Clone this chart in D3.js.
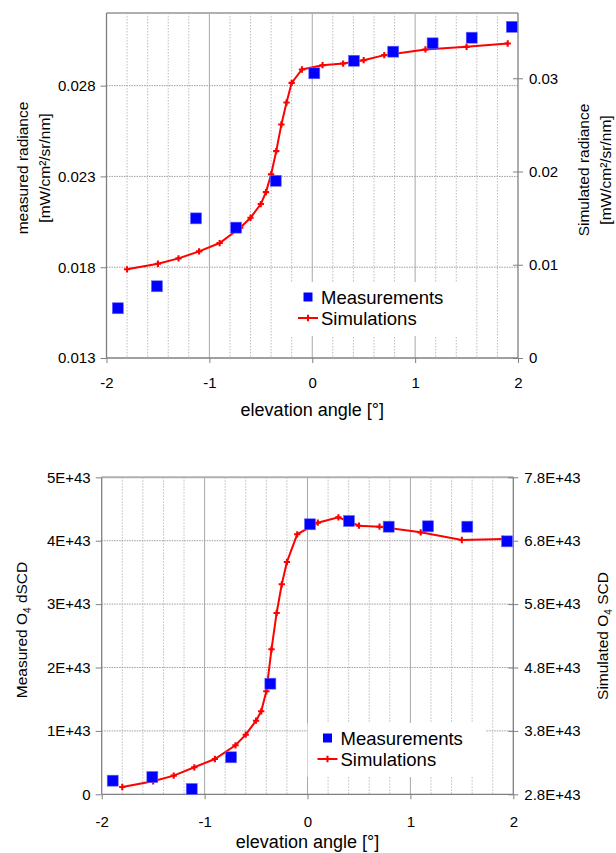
<!DOCTYPE html>
<html><head><meta charset="utf-8">
<script src="https://cdn.jsdelivr.net/npm/d3@7"></script>
<style>
body{margin:0;background:#fff;}
svg{display:block;font-family:"Liberation Sans",Arial,sans-serif;}
</style></head>
<body><svg id="c" width="616" height="853"></svg>
<script>
// ---------- DATA ----------
const xTicks = [-2, -1, 0, 1, 2];
const xTickLabels = ["-2", "-1", "0", "1", "2"];
const xMinorGrid = [-1.8, -1.6, -1.4, -1.2, -0.8, -0.6, -0.4, -0.2, 0.2, 0.4, 0.6, 0.8, 1.2, 1.4, 1.6, 1.8];

// Top panel: radiance
const topMeasX = [-1.89, -1.51, -1.13, -0.74, -0.355, 0.02, 0.405, 0.787, 1.17, 1.55, 1.94];
const topMeasY = [0.01574, 0.01695, 0.02069, 0.02018, 0.02276, 0.02868, 0.02937, 0.02987, 0.03033, 0.03064, 0.03124];
const topSimX = [-1.8, -1.5, -1.3, -1.1, -0.9, -0.7, -0.6, -0.5, -0.45, -0.4, -0.35, -0.3, -0.25, -0.2, -0.1, 0.1, 0.3, 0.5, 0.7, 1.1, 1.5, 1.9];
const topSimY = [0.00951, 0.01011, 0.01068, 0.01143, 0.01233, 0.01397, 0.01504, 0.01651, 0.01779, 0.01969, 0.02219, 0.02505, 0.0274, 0.02951, 0.03094, 0.0314, 0.03158, 0.03194, 0.03248, 0.03309, 0.03337, 0.03373];
const topLeftTicks = [0.013, 0.018, 0.023, 0.028];
const topLeftLabels = ["0.013", "0.018", "0.023", "0.028"];
const topRightTicks = [0, 0.01, 0.02, 0.03];
const topRightLabels = ["0", "0.01", "0.02", "0.03"];

// Bottom panel: O4 (units of 1E+43)
const botMeasX = [-1.893, -1.508, -1.125, -0.743, -0.361, 0.024, 0.403, 0.789, 1.171, 1.553, 1.939];
const botMeasY = [0.215, 0.273, 0.084, 0.584, 1.745, 4.259, 4.311, 4.221, 4.227, 4.221, 3.99];
const botSimX = [-1.8, -1.5, -1.3, -1.1, -0.9, -0.7, -0.6, -0.5, -0.45, -0.4, -0.35, -0.3, -0.25, -0.2, -0.1, 0.1, 0.3, 0.5, 0.7, 1.1, 1.5, 1.9];
const botSimY = [2.915, 3.005, 3.094, 3.226, 3.357, 3.573, 3.74, 3.961, 4.109, 4.425, 5.087, 5.66, 6.112, 6.464, 6.901, 7.084, 7.169, 7.037, 7.021, 6.932, 6.811, 6.827];
const botLeftTicks = [0, 1, 2, 3, 4, 5];
const botLeftLabels = ["0", "1E+43", "2E+43", "3E+43", "4E+43", "5E+43"];
const botRightTicks = [2.8, 3.8, 4.8, 5.8, 6.8, 7.8];
const botRightLabels = ["2.8E+43", "3.8E+43", "4.8E+43", "5.8E+43", "6.8E+43", "7.8E+43"];

const legendNames = ["Measurements", "Simulations"];

// ---------- DRAW ----------
const svg = d3.select("#c");
const FS = 15;

function panel(cfg) {
  const g = svg.append("g");
  const x = d3.scaleLinear().domain([-2, 2]).range([cfg.l, cfg.r]);
  const yL = d3.scaleLinear().domain(cfg.leftDom).range([cfg.b, cfg.t]);
  const yR = d3.scaleLinear().domain(cfg.rightDom).range([cfg.b, cfg.t]);

  // minor vertical gridlines
  g.append("g").selectAll("line").data(xMinorGrid).join("line")
    .attr("x1", d => x(d)).attr("x2", d => x(d)).attr("y1", cfg.t).attr("y2", cfg.b)
    .attr("stroke", "#bdbdbd").attr("stroke-width", 1).attr("stroke-dasharray", "1.5,1.5");
  // major vertical gridlines
  g.append("g").selectAll("line").data(xTicks.slice(1, -1)).join("line")
    .attr("x1", d => x(d)).attr("x2", d => x(d)).attr("y1", cfg.t).attr("y2", cfg.b)
    .attr("stroke", "#a8a8a8").attr("stroke-width", 1);
  // horizontal gridlines
  g.append("g").selectAll("line").data(cfg.leftTicks.filter(v => v > cfg.leftDom[0] && v < cfg.leftDom[1])).join("line")
    .attr("x1", cfg.l).attr("x2", cfg.r).attr("y1", d => yL(d)).attr("y2", d => yL(d))
    .attr("stroke", "#a0a0a0").attr("stroke-width", 1).attr("stroke-dasharray", "1.5,1");

  // legend box (white, covers gridlines)
  g.append("rect").attr("x", cfg.legX - 20).attr("y", cfg.legY - 15)
    .attr("width", 178).attr("height", 54).attr("fill", "#fff");

  // frame
  g.append("line").attr("x1", cfg.l).attr("x2", cfg.r).attr("y1", cfg.t).attr("y2", cfg.t)
    .attr("stroke", "#b0b0b0").attr("stroke-width", 2);

  // axes
  const ax = g.append("g").attr("transform", `translate(0,${cfg.b})`)
    .call(d3.axisBottom(x).tickValues(xTicks).tickFormat((d, i) => xTickLabels[i]).tickSize(5).tickPadding(cfg.xPad));
  const al = g.append("g").attr("transform", `translate(${cfg.l},0)`)
    .call(d3.axisLeft(yL).tickValues(cfg.leftTicks).tickFormat((d, i) => cfg.leftLabels[i]).tickSize(6).tickPadding(cfg.lPad));
  const ar = g.append("g").attr("transform", `translate(${cfg.r},0)`)
    .call(d3.axisRight(yR).tickValues(cfg.rightTicks).tickFormat((d, i) => cfg.rightLabels[i]).tickSize(5).tickPadding(cfg.rPad));
  [ax, al, ar].forEach(a => {
    a.select(".domain").attr("stroke", "#808080").attr("stroke-width", 1.3);
    a.selectAll(".tick line").attr("stroke", "#808080");
    a.selectAll("text").attr("font-size", FS).attr("fill", "#000").attr("font-family", "Liberation Sans, Arial, sans-serif");
  });
  ar.selectAll(".tick line").attr("x1", -5);
  ax.selectAll(".tick line").attr("y1", 0);
  ax.select(".domain").attr("d", `M${cfg.l},0H${cfg.r}`);
  al.select(".domain").attr("d", `M0,${cfg.t}V${cfg.b}`);
  ar.select(".domain").attr("d", `M0,${cfg.t}V${cfg.b}`);

  // simulation line
  const sim = cfg.simX.map((v, i) => [v, cfg.simY[i]]);
  g.append("path").datum(sim)
    .attr("d", d3.line().x(d => x(d[0])).y(d => yR(d[1])))
    .attr("fill", "none").attr("stroke", "#ff0000").attr("stroke-width", 2);
  g.append("g").selectAll("path").data(sim).join("path")
    .attr("transform", d => `translate(${x(d[0])},${yR(d[1])})`)
    .attr("d", d3.symbol(d3.symbolCross, 22)).attr("fill", "#ff0000");

  // measurements
  const meas = cfg.measX.map((v, i) => [v, cfg.measY[i]]);
  g.append("g").selectAll("rect").data(meas).join("rect")
    .attr("x", d => x(d[0]) - 5.5).attr("y", d => yL(d[1]) - 5.5)
    .attr("width", 11).attr("height", 11).attr("fill", "#0000ff")
    .attr("stroke", "#6b6bff").attr("stroke-width", 0.6);

  // legend
  g.append("rect").attr("x", cfg.legX - 4.5).attr("y", cfg.legY - 4.5).attr("width", 9).attr("height", 9).attr("fill", "#0000ff");
  g.append("text").attr("x", cfg.legX + 13).attr("y", cfg.legY + 6.5).attr("font-size", 18.5).text(legendNames[0]);
  g.append("line").attr("x1", cfg.legX - 10).attr("x2", cfg.legX + 10).attr("y1", cfg.legY + 21).attr("y2", cfg.legY + 21)
    .attr("stroke", "#ff0000").attr("stroke-width", 2);
  g.append("path").attr("transform", `translate(${cfg.legX},${cfg.legY + 21})`)
    .attr("d", d3.symbol(d3.symbolCross, 22)).attr("fill", "#ff0000");
  g.append("text").attr("x", cfg.legX + 13).attr("y", cfg.legY + 27.5).attr("font-size", 18.5).text(legendNames[1]);

  // x title
  g.append("text").attr("x", (cfg.l + cfg.r) / 2).attr("y", cfg.xTitleY).attr("text-anchor", "middle")
    .attr("font-size", 18).text("elevation angle [°]");

  return g;
}

const g1 = panel({
  l: 106.5, r: 518, t: 13, b: 358,
  leftDom: [0.013, 0.032], rightDom: [0, 0.037],
  leftTicks: topLeftTicks, leftLabels: topLeftLabels,
  rightTicks: topRightTicks, rightLabels: topRightLabels,
  measX: topMeasX, measY: topMeasY, simX: topSimX, simY: topSimY,
  legX: 308, legY: 297, xTitleY: 416, xPad: 14, lPad: 5, rPad: 6
});
// top titles
g1.append("text").attr("transform", "translate(28,168) rotate(-90)").attr("text-anchor", "middle").attr("font-size", 15.5).text("measured radiance");
g1.append("text").attr("transform", "translate(50,168) rotate(-90)").attr("text-anchor", "middle").attr("font-size", 15.5).text("[mW/cm²/sr/nm]");
g1.append("text").attr("transform", "translate(589,170) rotate(-90)").attr("text-anchor", "middle").attr("font-size", 15.5).text("Simulated radiance");
g1.append("text").attr("transform", "translate(611,170) rotate(-90)").attr("text-anchor", "middle").attr("font-size", 15.5).text("[mW/cm²/sr/nm]");

const g2 = panel({
  l: 101.7, r: 513.3, t: 477.3, b: 794.3,
  leftDom: [0, 5], rightDom: [2.8, 7.8],
  leftTicks: botLeftTicks, leftLabels: botLeftLabels,
  rightTicks: botRightTicks, rightLabels: botRightLabels,
  measX: botMeasX, measY: botMeasY, simX: botSimX, simY: botSimY,
  legX: 327.5, legY: 738, xTitleY: 847.5, xPad: 17, lPad: 5, rPad: 6
});
function subTitle(g, x, y, a, b) {
  const t = g.append("text").attr("transform", `translate(${x},${y}) rotate(-90)`).attr("text-anchor", "middle").attr("font-size", 15.5);
  t.append("tspan").text(a + "O");
  t.append("tspan").attr("font-size", 10).attr("dy", 4).text("4");
  t.append("tspan").attr("dy", -4).text(b);
}
subTitle(g2, 27, 630, "Measured ", " dSCD");
subTitle(g2, 608, 636, "Simulated ", " SCD");
</script></body></html>
